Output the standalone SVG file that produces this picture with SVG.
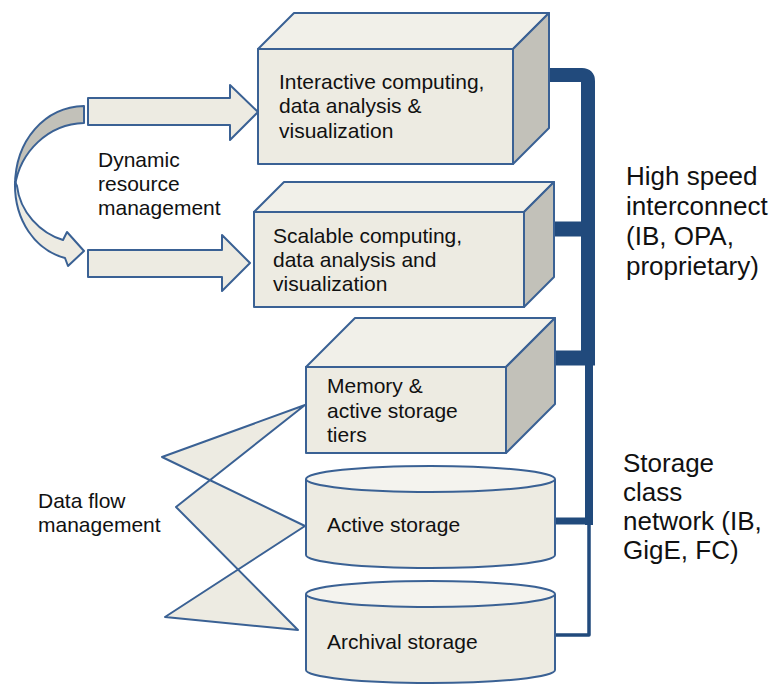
<svg xmlns="http://www.w3.org/2000/svg" width="774" height="684" viewBox="0 0 774 684">
  <style>
    .face { fill: #EDEBE2; stroke: #3A6194; stroke-width: 2; stroke-linejoin: round; }
    .top { fill: #F1F0E9; stroke: #3A6194; stroke-width: 2; stroke-linejoin: round; }
    .side { fill: #C2C1B9; stroke: #3A6194; stroke-width: 2; stroke-linejoin: round; }
    .lid { fill: #F4F3EE; stroke: #3A6194; stroke-width: 2; }
    .shape { fill: #EDEBE2; stroke: #3A6194; stroke-width: 2; stroke-linejoin: round; }
    .back { fill: #C2C1B9; stroke: #3A6194; stroke-width: 2; stroke-linejoin: round; }
    .bus { fill: none; stroke: #214A7C; stroke-linecap: butt; stroke-linejoin: round; }
    .t { font-family: "Liberation Sans", Arial, sans-serif; font-size: 21px; fill: #111; }
    .big { font-family: "Liberation Sans", Arial, sans-serif; font-size: 26px; fill: #111; }
  </style>

  <!-- interconnect and storage network -->
  <g id="connectors">
    <path class="bus" stroke-width="14" d="M549,75 H582 Q588,75 588,81 V365"/>
    <path class="bus" stroke-width="15" d="M555,229 H588"/>
    <path class="bus" stroke-width="15" d="M555,358 H595"/>
    <path class="bus" stroke-width="8" d="M589,362 V525"/>
    <path class="bus" stroke-width="7" d="M555,521 H593"/>
    <path class="bus" stroke-width="3.5" d="M589,524 V635 H555"/>
  </g>

  <!-- dynamic resource management arrows -->
  <g id="dynamic-arrows">
    <path class="shape" d="M88,98 H230 V85 L258,112 L230,140 V125 H88 Z"/>
    <path class="shape" d="M88,250 H222 V235 L250,263 L222,291 V277 H88 Z"/>
    <path class="back" d="M84,106 C45,107 15,140 15,186 C20,152 48,124 84,123 Z"/>
    <path class="shape" d="M15,182 C14,220 35,250 65,258 L68,266 L84,251 L67,232 L63,240 C40,233 20,212 17,186 Z"/>
    <text class="t" x="98" y="167">Dynamic</text>
    <text class="t" x="98" y="191">resource</text>
    <text class="t" x="98" y="215">management</text>
  </g>

  <!-- data flow management ribbon -->
  <g id="data-flow">
    <path class="shape" fill-rule="evenodd" d="M305,405 L162,457 L305,526 L165,617 L298,630 L176,507 Z"/>
    <text class="t" x="38" y="508">Data flow</text>
    <text class="t" x="38" y="532">management</text>
  </g>

  <g id="interactive">
    <polygon class="top" points="258,49 294,13 549,13 513,49"/>
    <polygon class="side" points="513,49 549,13 549,128 513,164"/>
    <rect class="face" x="258" y="49" width="255" height="115"/>
    <text class="t" x="279" y="89">Interactive computing,</text>
    <text class="t" x="279" y="113">data analysis &amp;</text>
    <text class="t" x="279" y="138">visualization</text>
  </g>

  <g id="scalable">
    <polygon class="top" points="254,212 284,182 554,182 524,212"/>
    <polygon class="side" points="524,212 554,182 554,277 524,307"/>
    <rect class="face" x="254" y="212" width="270" height="95"/>
    <text class="t" x="273" y="243">Scalable computing,</text>
    <text class="t" x="273" y="267">data analysis and</text>
    <text class="t" x="273" y="291">visualization</text>
  </g>

  <g id="memory">
    <polygon class="top" points="306,367 355,318 555,318 506,367"/>
    <polygon class="side" points="506,367 555,318 555,404 506,453"/>
    <rect class="face" x="306" y="367" width="200" height="86"/>
    <text class="t" x="327" y="393">Memory &amp;</text>
    <text class="t" x="327" y="418">active storage</text>
    <text class="t" x="327" y="442">tiers</text>
  </g>

  <g id="active-storage">
    <path class="face" d="M306,479 V555 A124.5,13 0 0 0 555,555 V479"/>
    <ellipse class="lid" cx="430.5" cy="479" rx="124.5" ry="13"/>
    <text class="t" x="327" y="532">Active storage</text>
  </g>

  <g id="archival-storage">
    <path class="face" d="M306,594 V670 A124.5,13 0 0 0 555,670 V594"/>
    <ellipse class="lid" cx="430.5" cy="594" rx="124.5" ry="13"/>
    <text class="t" x="327" y="649">Archival storage</text>
  </g>

  <g id="labels">
    <text class="big" x="626" y="185">High speed</text>
    <text class="big" x="626" y="215">interconnect</text>
    <text class="big" x="626" y="245">(IB, OPA,</text>
    <text class="big" x="626" y="275">proprietary)</text>
    <text class="big" x="623" y="472">Storage</text>
    <text class="big" x="623" y="501">class</text>
    <text class="big" x="623" y="530">network (IB,</text>
    <text class="big" x="623" y="559">GigE, FC)</text>
  </g>
</svg>
